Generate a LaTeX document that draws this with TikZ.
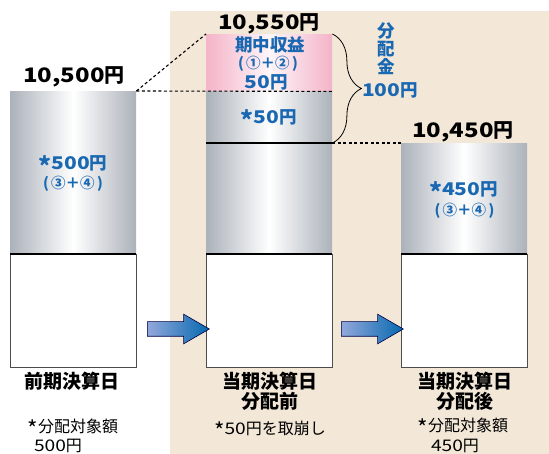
\documentclass[tikz,border=0pt]{standalone}
\usepackage{fontspec}
\setmainfont{Noto Sans CJK JP}
\newfontfamily\numfont[FakeStretch=1.2]{Noto Sans CJK JP}
\usetikzlibrary{shapes.arrows,decorations.pathreplacing}
\definecolor{beige}{HTML}{F3E8D8}
\definecolor{silver}{HTML}{ACB2BA}
\definecolor{rose}{HTML}{F4B3C8}
\definecolor{valblue}{HTML}{1A68B2}
\definecolor{arrowlight}{HTML}{93A8DB}
\definecolor{arrowdark}{HTML}{0568B0}
\newcommand{\dg}[1]{{\numfont #1}}
\newcommand{\kome}{\raisebox{-0.36em}[0.7em][0pt]{\scalebox{1.4}{*}}}

\begin{document}
\begin{tikzpicture}[x=1pt,y=-1pt,
  silverbar/.style={inner sep=0pt, minimum width=126pt, anchor=north west,
    left color=silver, right color=silver, middle color=white},
  pinkbar/.style={inner sep=0pt, minimum width=126pt, anchor=north west,
    left color=rose, right color=rose, middle color=rose!12},
  basebox/.style={draw=black!70, fill=white, inner sep=0pt,
    minimum width=126pt, anchor=north west},
  amount/.style={font=\fontsize{20}{22}\selectfont\bfseries},
  valtext/.style={text=valblue, font=\fontsize{17.5}{18}\selectfont\bfseries, inner sep=0pt},
  subtext/.style={text=valblue, font=\fontsize{14.5}{15}\selectfont\bfseries, inner sep=0pt},
  daytext/.style={font=\fontsize{19}{20}\selectfont\bfseries, align=center, inner sep=0pt},
  notetext/.style={font=\fontsize{16}{18}\selectfont, inner sep=0pt},
  dashline/.style={dash pattern=on 3pt off 2.5pt, line width=1.1pt},
  flowarrow/.style={single arrow, draw=black!75!blue, line width=0.6pt,
    left color=arrowlight, right color=arrowdark,
    minimum height=62pt, minimum width=29pt, inner sep=7pt,
    single arrow head extend=7.5pt, single arrow tip angle=60}]

  \useasboundingbox (0,0) rectangle (549,454);
  \fill[beige] (170,11) rectangle (549,454);

  % bars
  \node[silverbar, minimum height=163pt] (prev) at (10,91) {};
  \node[basebox, minimum height=113pt] (prevbase) at (10,254) {};
  \node[pinkbar, minimum height=57pt] (gain) at (206,34) {};
  \node[silverbar, minimum height=163pt] (now) at (206,91) {};
  \node[basebox, minimum height=113pt] (nowbase) at (206,254) {};
  \node[silverbar, minimum height=111pt] (post) at (401,143) {};
  \node[basebox, minimum height=113pt] (postbase) at (401,254) {};

  \foreach \b in {prevbase,nowbase,postbase} {
    \draw[line width=1.6pt] (\b.north west) -- (\b.north east);
  }
  \draw[line width=1.6pt] (now.west |- post.north) -- (now.east |- post.north);

  \draw[dashline] (prev.north east) -- (gain.north west);
  \draw[dashline] (prev.north east) -- (gain.south east);
  \draw[dashline] (now.east |- post.north) -- (post.north west);

  \draw[decorate, decoration={brace, amplitude=29pt}, line width=0.8pt]
    (gain.north east) -- (now.east |- post.north);

  % amounts
  \node[amount] (prevamt) at (74,77) {\dg{10,500}円};
  \node[amount] (nowamt) at (269,24) {\dg{10,550}円};
  \node[amount] (postamt) at (463,131.5) {\dg{10,450}円};

  \node[valtext] (prevval) at (73,163.5) {\kome\dg{500}円};
  \node[subtext] (prevsum) at (73,184) {(\,③＋④\,)};
  \node[valtext] (gaintitle) at (270,45) {期中収益};
  \node[subtext] (gainsum) at (268,64) {(\,①＋②\,)};
  \node[valtext] (gainval) at (266,82.5) {\dg{50}円};
  \node[valtext] (nowval) at (269,117.5) {\kome\dg{50}円};
  \node[valtext] (postval) at (463.5,189) {\kome\dg{450}円};
  \node[subtext] (postsum) at (464.5,210.5) {(\,③＋④\,)};

  \node[valtext, align=center] (paytitle) at (386,49) {分\\配\\金};
  \node[valtext] (payval) at (390,90) {\dg{100}円};

  % arrows
  \node[flowarrow] (step1) at (172,329) {};
  \node[flowarrow] (step2) at (366,329) {};

  % dates
  \node[daytext] (prevday) at (72,381) {前期決算日};
  \node[daytext] (nowday) at (270,391) {当期決算日\\分配前};
  \node[daytext] (postday) at (465,391) {当期決算日\\分配後};

  \node[notetext] (prevnote) at (73,426) {\kome 分配対象額};
  \node[notetext] (prevnoteval) at (58,445.5) {\dg{500}円};
  \node[notetext] (nownote) at (270,428) {\kome\dg{50}円を取崩し};
  \node[notetext] (postnote) at (463,425) {\kome 分配対象額};
  \node[notetext] (postnoteval) at (455,445.5) {\dg{450}円};
\end{tikzpicture}
\end{document}
